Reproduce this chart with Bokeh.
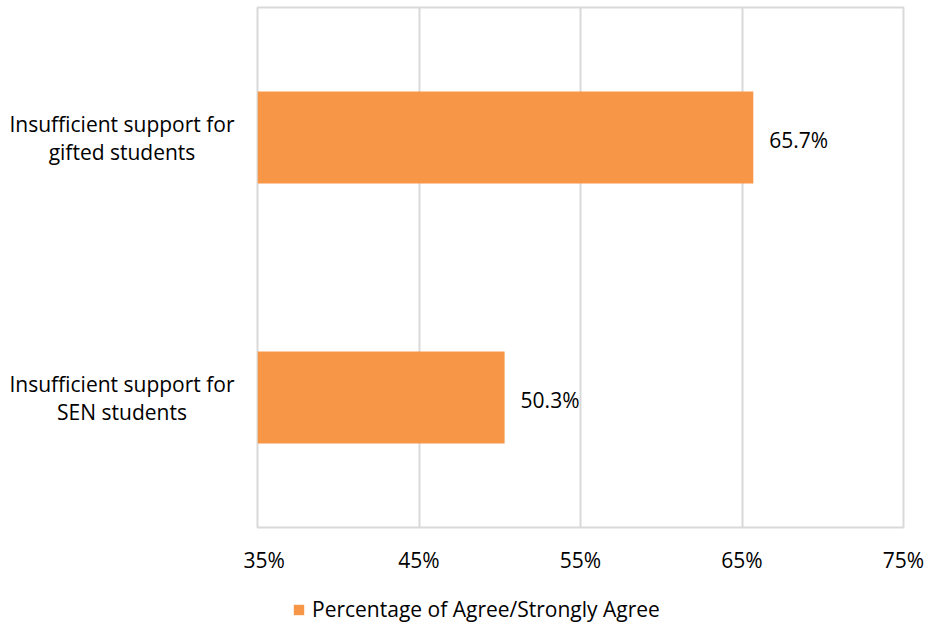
from bokeh.plotting import figure
from bokeh.layouts import row, column
from bokeh.models import FactorRange, FixedTicker, PrintfTickFormatter, Legend, LegendItem, ColumnDataSource, LabelSet
from bokeh.core.properties import value
from bokeh.embed import file_html
from bokeh.resources import INLINE

categories = ["Insufficient support for SEN students", "Insufficient support for gifted students"]
label_line1 = ["Insufficient support for", "Insufficient support for"]
label_line2 = ["SEN students", "gifted students"]
values = [50.3, 65.7]
value_labels = ["50.3%", "65.7%"]
x_start, x_end = 35, 75
x_ticks = [35, 45, 55, 65, 75]
series_name = "Percentage of Agree/Strongly Agree"

FONT = "Open Sans"
FS = "21px"
BAR = "#F79646"
GRID = "#D9D9D9"
TXT = "#000000"
W = 927
H = 584
LEG_H = 40
TOP, BOTTOM = 7, 57

y_range = FactorRange(*categories)

# left panel with the category labels
lab = figure(width=243, height=H, y_range=y_range, x_range=(0, 1),
             output_backend="svg", toolbar_location=None,
             min_border_left=0, min_border_right=0, min_border_top=TOP, min_border_bottom=BOTTOM)
lab.axis.visible = False
lab.grid.visible = False
lab.outline_line_color = None
lsrc = ColumnDataSource(dict(cat=categories, l1=label_line1, l2=label_line2, xc=[0.5] * len(categories)))
lab.text(x="xc", y="cat", text="l1", source=lsrc, text_align="center", text_baseline="middle",
         y_offset=-14, text_font=value(FONT), text_font_size=value(FS), text_color=TXT)
lab.text(x="xc", y="cat", text="l2", source=lsrc, text_align="center", text_baseline="middle",
         y_offset=14, text_font=value(FONT), text_font_size=value(FS), text_color=TXT)

# main chart
p = figure(width=W - 243, height=H, y_range=y_range, x_range=(x_start, x_end),
           output_backend="svg", toolbar_location=None,
           min_border_left=14, min_border_top=TOP, min_border_right=24, min_border_bottom=BOTTOM)

src = ColumnDataSource(dict(cat=categories, val=values, lab=value_labels))
p.hbar(y="cat", right="val", left=x_start, height=0.354, source=src, color=BAR, line_color=None)

p.add_layout(LabelSet(x="val", y="cat", text="lab", source=src, x_offset=16, y_offset=-2,
                      text_baseline="middle", text_align="left", text_font=value(FONT),
                      text_font_size=value(FS), text_color=TXT))

p.yaxis.visible = False
p.xaxis.ticker = FixedTicker(ticks=x_ticks)
p.xaxis.formatter = PrintfTickFormatter(format="%d%%")
p.xaxis.axis_line_color = None
p.xaxis.major_tick_line_color = None
p.xaxis.minor_tick_line_color = None
p.xaxis.major_label_standoff = 12
p.xaxis.major_label_text_font = FONT
p.xaxis.major_label_text_font_size = FS
p.xaxis.major_label_text_color = TXT

p.xgrid.grid_line_color = GRID
p.xgrid.grid_line_width = 2
p.ygrid.grid_line_color = None
p.outline_line_color = GRID
p.outline_line_width = 2

# legend strip (hidden copy of the series supplies the legend swatch)
leg = figure(width=W, height=LEG_H, x_range=(0, 1), y_range=(0, 1),
             output_backend="svg", toolbar_location=None,
             min_border_left=0, min_border_right=0, min_border_top=0, min_border_bottom=0)
leg.axis.visible = False
leg.grid.visible = False
leg.outline_line_color = None
swatch = leg.hbar(y=[0.5] * len(values), right=values, left=x_start, height=0.5, color=BAR, line_color=None)
swatch.visible = False
legend = Legend(items=[LegendItem(label=series_name, renderers=[swatch], index=0)], location=(292, 1),
                orientation="horizontal", label_text_font=FONT, label_text_font_size=FS,
                label_text_color=TXT, glyph_width=13, glyph_height=13,
                border_line_color=None, background_fill_alpha=0, margin=0, padding=0,
                label_standoff=7)
leg.add_layout(legend, "center")

layout = column(row(lab, p, spacing=0), leg, spacing=0)
open("out.html", "w").write(file_html(layout, INLINE))
